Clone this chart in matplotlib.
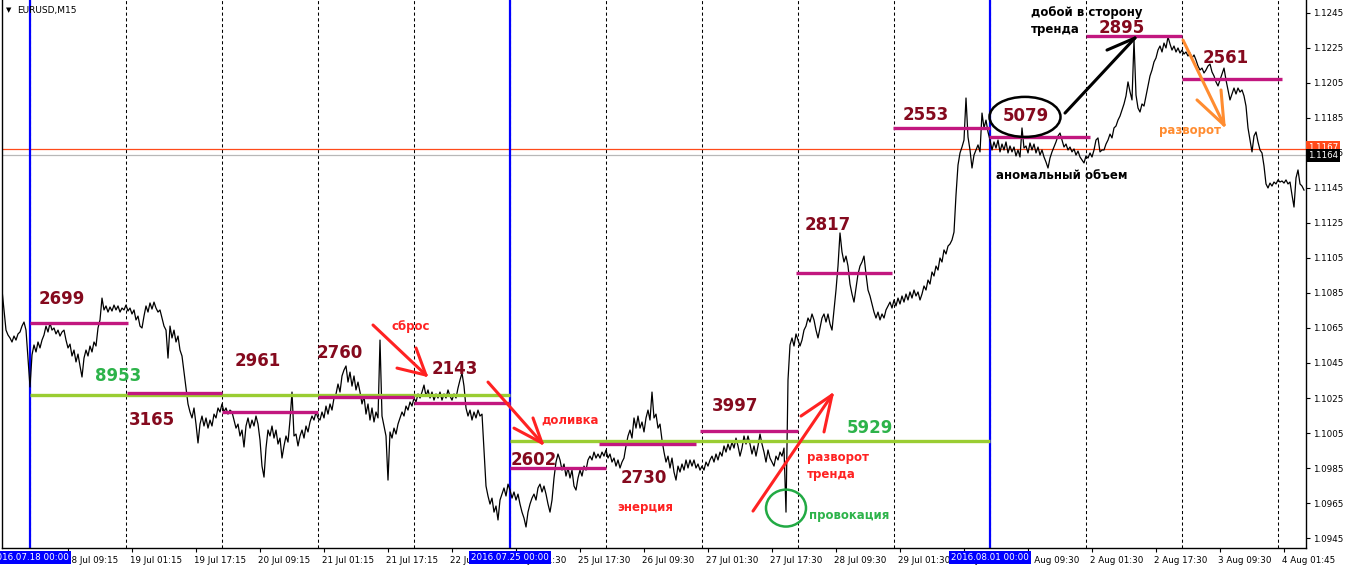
import numpy as np
import matplotlib
matplotlib.use('Agg')
import matplotlib.pyplot as plt
import matplotlib.transforms as mtransforms
from matplotlib.patches import Ellipse

plt.rcParams['font.family'] = ['DejaVu Sans']

# EURUSD M15 close, sampled every 2 bars (30 min), bar 0 = left edge of chart
close_30m = [
    1.10867, 1.10753, 1.10638, 1.10610, 1.10593, 1.10570, 1.10604, 1.10581, 1.10616, 1.10627,
    1.10661, 1.10684, 1.10638, 1.10478, 1.10313, 1.10496, 1.10553, 1.10513, 1.10570, 1.10536,
    1.10581, 1.10610, 1.10661, 1.10627, 1.10678, 1.10638, 1.10650, 1.10616, 1.10638, 1.10604,
    1.10627, 1.10638, 1.10581, 1.10536, 1.10558, 1.10490, 1.10524, 1.10456, 1.10501, 1.10433,
    1.10370, 1.10478, 1.10524, 1.10490, 1.10547, 1.10513, 1.10570, 1.10547, 1.10650, 1.10696,
    1.10821,
    # 104 .. 186
    1.10753, 1.10776, 1.10741, 1.10770, 1.10747, 1.10781, 1.10753, 1.10776, 1.10741, 1.10764,
    1.10753, 1.10781, 1.10747, 1.10764, 1.10730, 1.10753, 1.10696, 1.10718, 1.10661, 1.10650,
    1.10718, 1.10776, 1.10741, 1.10793, 1.10758, 1.10798, 1.10764, 1.10741, 1.10753, 1.10707,
    1.10661, 1.10638, 1.10478, 1.10661, 1.10593, 1.10638, 1.10570, 1.10604, 1.10524, 1.10490,
    1.10398, 1.10307,
    # 188 .. 320
    1.10216, 1.10170, 1.10136, 1.10193, 1.10101, 1.09993, 1.10101, 1.10147, 1.10090, 1.10136,
    1.10078, 1.10124, 1.10090, 1.10158, 1.10136, 1.10193, 1.10170, 1.10216, 1.10170, 1.10193,
    1.10158, 1.10181, 1.10170, 1.10124, 1.10078, 1.10101, 1.10033, 1.10067, 1.09970, 1.10090,
    1.10136, 1.10078, 1.10124, 1.10090, 1.10147, 1.10101, 1.10010, 1.09861, 1.09798, 1.09964,
    1.10067, 1.10033, 1.10090, 1.10021, 1.10067, 1.09987, 1.10021, 1.09907, 1.09976, 1.10033,
    1.09998, 1.10124, 1.10284, 1.10033, 1.10044, 1.09976, 1.10033, 1.10067, 1.10021, 1.10090,
    1.10056, 1.10113, 1.10147, 1.10124, 1.10170, 1.10136, 1.10124,
    # 322 .. 420
    1.10170, 1.10136, 1.10204, 1.10158, 1.10216, 1.10181, 1.10250, 1.10273, 1.10330, 1.10284,
    1.10376, 1.10410, 1.10433, 1.10341, 1.10398, 1.10318, 1.10376, 1.10296, 1.10341, 1.10284,
    1.10216, 1.10261, 1.10158, 1.10216, 1.10124, 1.10193, 1.10113, 1.10170, 1.10136, 1.10581,
    1.10147, 1.10090, 1.10033, 1.09781, 1.10056, 1.10021, 1.10078, 1.10044, 1.10101, 1.10136,
    1.10170, 1.10147, 1.10204, 1.10181, 1.10227, 1.10204, 1.10250, 1.10227, 1.10273, 1.10250,
    # 422 .. 486
    1.10284, 1.10324, 1.10261, 1.10296, 1.10250, 1.10284, 1.10238, 1.10273, 1.10250, 1.10284,
    1.10238, 1.10273, 1.10250, 1.10296, 1.10261, 1.10238, 1.10273, 1.10250, 1.10307, 1.10353,
    1.10393, 1.10318, 1.10193, 1.10147, 1.10181, 1.10124, 1.10170, 1.10136, 1.10181, 1.10147,
    1.10158, 1.09953, 1.09747,
    # 488 .. 600
    1.09690, 1.09644, 1.09678, 1.09598, 1.09633, 1.09553, 1.09667, 1.09701, 1.09736, 1.09690,
    1.09758, 1.09724, 1.09678, 1.09713, 1.09667, 1.09701, 1.09644, 1.09598, 1.09564, 1.09513,
    1.09598, 1.09644, 1.09678, 1.09701, 1.09667, 1.09736, 1.09758, 1.09713, 1.09747, 1.09701,
    1.09644, 1.09598, 1.09667, 1.09793, 1.09884, 1.09930, 1.09896, 1.09838, 1.09873, 1.09804,
    1.09850, 1.09793, 1.09838, 1.09747, 1.09724, 1.09793, 1.09838, 1.09804, 1.09861, 1.09838,
    1.09896, 1.09918, 1.09896, 1.09941, 1.09907, 1.09930, 1.09907,
    # 602 .. 700
    1.09941, 1.09918, 1.09953, 1.09907, 1.09930, 1.09884, 1.09907, 1.09861, 1.09896, 1.09850,
    1.09884, 1.09907, 1.09976, 1.10033, 1.10067, 1.10021, 1.10136, 1.10078, 1.10147, 1.10078,
    1.10113, 1.10056, 1.10136, 1.10181, 1.10124, 1.10284, 1.10136, 1.10158, 1.10078, 1.10101,
    1.10010, 1.09941, 1.09884, 1.09918, 1.09850, 1.09907, 1.09827, 1.09781, 1.09861, 1.09827,
    1.09873, 1.09838, 1.09896, 1.09850, 1.09896, 1.09861, 1.09896, 1.09850, 1.09873, 1.09838,
    # 702 .. 790
    1.09861, 1.09838, 1.09884, 1.09861, 1.09896, 1.09918, 1.09884, 1.09930, 1.09896, 1.09941,
    1.09918, 1.09976, 1.09941, 1.09987, 1.09953, 1.09998, 1.09964, 1.10021, 1.09976, 1.09918,
    1.09964, 1.10033, 1.09987, 1.10033, 1.09987, 1.09930, 1.09976, 1.09918, 1.09976, 1.10044,
    1.09987, 1.09941, 1.09884, 1.09953, 1.09907, 1.09884, 1.09861, 1.09918, 1.09896, 1.09941,
    1.09918, 1.09964, 1.09598, 1.10353, 1.10553,
    # 792 .. 890
    1.10593, 1.10547, 1.10616, 1.10581, 1.10547, 1.10581, 1.10638, 1.10661, 1.10707, 1.10684,
    1.10730, 1.10696, 1.10638, 1.10593, 1.10650, 1.10707, 1.10730, 1.10684, 1.10730, 1.10673,
    1.10638, 1.10753, 1.10867, 1.11004, 1.11193, 1.11084, 1.11027, 1.11061, 1.11004, 1.10901,
    1.10844, 1.10798, 1.10878, 1.10958, 1.11004, 1.11027, 1.11061, 1.10958, 1.10867, 1.10833,
    1.10787, 1.10741, 1.10707, 1.10741, 1.10696, 1.10730, 1.10707, 1.10753, 1.10776, 1.10798,
    # 892 .. 990
    1.10764, 1.10810, 1.10776, 1.10821, 1.10787, 1.10833, 1.10798, 1.10844, 1.10810, 1.10856,
    1.10821, 1.10867, 1.10833, 1.10856, 1.10810, 1.10844, 1.10890, 1.10867, 1.10924, 1.10901,
    1.10970, 1.10947, 1.11004, 1.10981, 1.11050, 1.11027, 1.11096, 1.11073, 1.11118, 1.11130,
    1.11153, 1.11198, 1.11410, 1.11581, 1.11650, 1.11684, 1.11724, 1.11964, 1.11741, 1.11667,
    1.11564, 1.11638, 1.11667, 1.11696, 1.11656, 1.11878, 1.11793, 1.11838, 1.11770, 1.11724,
    # 992 .. 1100
    1.11667, 1.11713, 1.11678, 1.11724, 1.11656, 1.11701, 1.11667, 1.11713, 1.11650, 1.11690,
    1.11656, 1.11684, 1.11633, 1.11667, 1.11627, 1.11793, 1.11678, 1.11690, 1.11650, 1.11707,
    1.11667, 1.11701, 1.11650, 1.11684, 1.11638, 1.11667, 1.11627, 1.11598, 1.11564, 1.11621,
    1.11656, 1.11684, 1.11713, 1.11747, 1.11764, 1.11724, 1.11684, 1.11701, 1.11667, 1.11684,
    1.11656, 1.11673, 1.11638, 1.11661, 1.11627, 1.11610, 1.11593, 1.11633, 1.11621, 1.11650,
    1.11627, 1.11667, 1.11724, 1.11736, 1.11656,
    # 1102 .. 1200
    1.11667, 1.11667, 1.11701, 1.11724, 1.11758, 1.11736, 1.11793, 1.11804, 1.11838, 1.11861,
    1.11896, 1.11930, 1.11976, 1.12056, 1.12000, 1.11953, 1.12295, 1.11981, 1.11907, 1.11884,
    1.11930, 1.11918, 1.11976, 1.12033, 1.12090, 1.12124, 1.12170, 1.12193, 1.12238, 1.12261,
    1.12227, 1.12278, 1.12250, 1.12313, 1.12273, 1.12238, 1.12261, 1.12227, 1.12250, 1.12221,
    1.12238, 1.12215, 1.12227, 1.12204, 1.12221, 1.12193, 1.12210, 1.12181, 1.12147, 1.12124,
    # 1202 .. 1304
    1.12135, 1.12107, 1.12124, 1.12147, 1.12158, 1.12113, 1.12090, 1.12056, 1.12033, 1.12067,
    1.12101, 1.12135, 1.12067, 1.12010, 1.11953, 1.11987, 1.12021, 1.11987, 1.12021, 1.11998,
    1.12010, 1.11976, 1.11918, 1.11793, 1.11724, 1.11656, 1.11747, 1.11770, 1.11713, 1.11667,
    1.11650, 1.11576, 1.11473, 1.11450, 1.11478, 1.11461, 1.11484, 1.11473, 1.11496, 1.11484,
    1.11490, 1.11478, 1.11496, 1.11473, 1.11484, 1.11410, 1.11341, 1.11507, 1.11553, 1.11473,
    1.11461, 1.11438,
]

# volume levels (magenta) : label, price, start bar, end bar
level_labels = ['2699', '3165', '2961', '2760', '2143', '2602', '2730', '3997',
                '2817', '2553', '5079', '2895', '2561']
level_prices = [1.10678, 1.10279, 1.10170, 1.10256, 1.10221, 1.09850, 1.09987, 1.10061,
                1.10964, 1.11793, 1.11741, 1.12318, 1.12073]
level_start = [28, 125, 220, 316, 412, 508, 597, 698, 794, 891, 987, 1084, 1180]
level_end = [126, 220, 316, 412, 508, 604, 694, 796, 890, 988, 1088, 1180, 1280]
# label anchor (bar, price)
level_label_x = [60, 150, 256, 338, 453, 532, 642, 733, 826, 924, 1024, 1120, 1224]
level_label_y = [1.10817, 1.10124, 1.10461, 1.10507, 1.10416, 1.09896, 1.09793, 1.10204,
                 1.11238, 1.11867, 1.11861, 1.12364, 1.12193]

# weekly volume levels (green)
week_labels = ['8953', '5929']
week_prices = [1.10267, 1.10004]
week_start = [28, 508]
week_end = [508, 988]
week_label_x = [116, 868]
week_label_y = [1.10377, 1.10078]

week_bars = [28, 508, 988]
week_names = ['2016.07.18 00:00', '2016.07.25 00:00', '2016.08.01 00:00']
day_bars = [28 + 96 * k for k in range(14)]

tick_labels = ['18 Jul 09:15', '19 Jul 01:15', '19 Jul 17:15', '20 Jul 09:15', '21 Jul 01:15',
               '21 Jul 17:15', '22 Jul 09:15', '25 Jul 01:30', '25 Jul 17:30', '26 Jul 09:30',
               '27 Jul 01:30', '27 Jul 17:30', '28 Jul 09:30', '29 Jul 01:30', '29 Jul 17:30',
               '1 Aug 09:30', '2 Aug 01:30', '2 Aug 17:30', '3 Aug 09:30', '4 Aug 01:45']
tick_bars = [66 + 64 * k for k in range(len(tick_labels))]
price_ticks = [1.1245, 1.1225, 1.1205, 1.1185, 1.1165, 1.1145, 1.1125, 1.1105, 1.1085,
               1.1065, 1.1045, 1.1025, 1.1005, 1.0985, 1.0965, 1.0945]
ask_price = 1.1167
bid_price = 1.1164

MAGENTA = '#C2177F'
LIME = '#9ACD32'
DARKRED = '#850A1E'
RED = '#FF2222'

fig = plt.figure(figsize=(13.46, 5.69), dpi=100)
ax = fig.add_axes([2 / 1346, 21 / 569, 1304 / 1346, 548 / 569])
ax.set_xlim(0, 1304)
ax.set_ylim(1.09393, 1.12524)

bars = np.arange(len(close_30m)) * 2

# grid and week separators
for b in day_bars:
    ax.axvline(b, color='black', lw=0.75, ls=(0, (3, 2.5)), zorder=1)
for b in week_bars:
    ax.axvline(b, color='#0000FF', lw=1.6, zorder=2)

ax.axhline(ask_price, color='#FF4A1A', lw=0.9, zorder=1.5)
ax.axhline(bid_price, color='#B8B8B8', lw=0.9, zorder=1.5)

# levels
ax.hlines(week_prices, week_start, week_end, color=LIME, lw=2.4, zorder=4)
ax.hlines(level_prices, level_start, level_end, color=MAGENTA, lw=2.4, zorder=4)

ax.plot(bars, close_30m, color='black', lw=0.9, zorder=3)

for t, x, y in zip(level_labels, level_label_x, level_label_y):
    ax.text(x, y, t, color=DARKRED, fontsize=12, fontweight='bold', ha='center', va='center', zorder=6)
for t, x, y in zip(week_labels, week_label_x, week_label_y):
    ax.text(x, y, t, color='#2DB34A', fontsize=12, fontweight='bold', ha='center', va='center', zorder=6)

# hand drawn arrows
def hand_arrow(tail, tip, arms, color):
    ax.plot([tail[0], tip[0]], [tail[1], tip[1]], color=color, lw=2.2, solid_capstyle='round', zorder=7)
    for a in arms:
        ax.plot([a[0], tip[0]], [a[1], tip[1]], color=color, lw=2.2, solid_capstyle='round', zorder=7)

hand_arrow((371, 1.10667), (424, 1.10381), [(395, 1.10421), (414, 1.10536)], RED)
hand_arrow((486, 1.10341), (540, 1.09993), [(512, 1.10078), (531, 1.10136)], RED)
hand_arrow((751, 1.09604), (830, 1.10267), [(799, 1.10147), (822, 1.10056)], RED)
hand_arrow((1063, 1.11878), (1133, 1.12307), [(1105, 1.12238)], 'black')
hand_arrow((1181, 1.12295), (1222, 1.11810), [(1195, 1.11953), (1219, 1.12010)], '#FF8C30')

ax.add_patch(Ellipse((1023, 1.11856), 71, 0.00229, fill=False, ec='black', lw=1.8, zorder=7))
ax.add_patch(Ellipse((784, 1.09621), 40, 0.00211, fill=False, ec='#22AA44', lw=1.8, zorder=7))

note_kw = dict(fontsize=8.5, fontweight='bold', zorder=8)
ax.text(409, 1.10656, 'сброс', color=RED, ha='center', va='center', **note_kw)
ax.text(568, 1.10124, 'доливка', color=RED, ha='center', va='center', **note_kw)
ax.text(643, 1.09627, 'энерция', color=RED, ha='center', va='center', **note_kw)
ax.text(805, 1.09861, 'разворот\nтренда', color=RED, ha='left', va='center', linespacing=1.45, **note_kw)
ax.text(847, 1.09576, 'провокация', color='#2DB34A', ha='center', va='center', **note_kw)
ax.text(1188, 1.11776, 'разворот', color='#FF8C30', ha='center', va='center', **note_kw)
ax.text(1029, 1.12404, 'добой в сторону\nтренда', color='black', ha='left', va='center', linespacing=1.45, **note_kw)
ax.text(1060, 1.11524, 'аномальный объем', color='black', ha='center', va='center', **note_kw)

# axes styling like the terminal
ax.spines['top'].set_visible(False)
for s in ['left', 'right', 'bottom']:
    ax.spines[s].set_linewidth(1.0)
ax.yaxis.tick_right()
ax.set_yticks(price_ticks)
ax.set_yticklabels(['%.4f' % p for p in price_ticks])
ax.tick_params(axis='y', direction='out', length=3, width=0.8, labelsize=6.3, pad=2)
ax.set_xticks(tick_bars)
ax.set_xticklabels(tick_labels)
ax.tick_params(axis='x', direction='out', length=3, width=0.8, labelsize=6.3, pad=3)
plt.setp(ax.get_xticklabels(), ha='left')
for lab in ax.get_xticklabels():
    lab.set_transform(lab.get_transform() + mtransforms.ScaledTranslation(-2 / 100, 0, fig.dpi_scale_trans))

# week start boxes on time axis
xtrans = mtransforms.blended_transform_factory(ax.transData, ax.transAxes)
for b, name in zip(week_bars, week_names):
    ax.text(b, -0.0175, name, transform=xtrans, ha='center', va='center', fontsize=6.3,
            color='white', clip_on=False, zorder=20,
            bbox=dict(facecolor='#0000FF', edgecolor='none', pad=1.6))

# current price boxes on price axis
ytrans = mtransforms.blended_transform_factory(ax.transAxes, ax.transData)
ax.text(1.0015, ask_price + 0.00012, '%.4f' % ask_price, transform=ytrans, ha='left', va='center',
        fontsize=6.3, color='white', clip_on=False, zorder=20,
        bbox=dict(facecolor='#FF4A1A', edgecolor='none', pad=1.3))
ax.text(1.0015, bid_price - 0.00004, '%.4f' % bid_price, transform=ytrans, ha='left', va='center',
        fontsize=6.3, color='white', clip_on=False, zorder=21,
        bbox=dict(facecolor='black', edgecolor='none', pad=1.3))

fig.text(9 / 1346, 1 - 10 / 569, '▼', fontsize=5, ha='center', va='center')
fig.text(17 / 1346, 1 - 10 / 569, 'EURUSD,M15', fontsize=6.5, ha='left', va='center')

fig.savefig('out.png', dpi=100)
